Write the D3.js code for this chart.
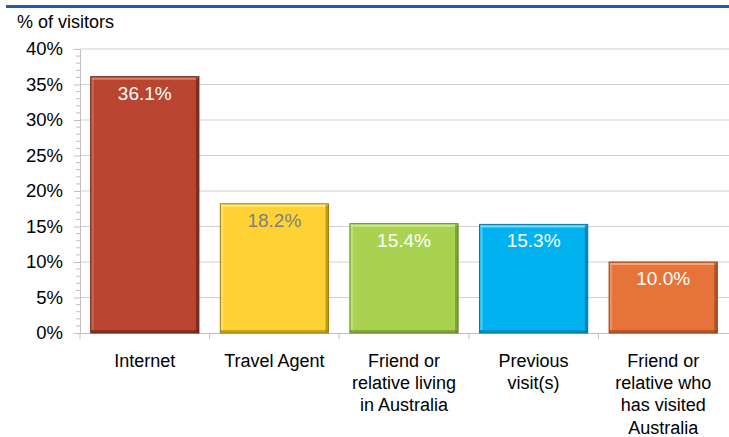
<!DOCTYPE html>
<html><head><meta charset="utf-8">
<script src="https://cdn.jsdelivr.net/npm/d3@7"></script>
<style>body{margin:0;background:#fff}svg{display:block;font-family:"Liberation Sans",Arial,sans-serif}</style>
</head><body><svg id="c" width="729" height="437"></svg>
<script>
const categories = [["Internet"],["Travel Agent"],["Friend or","relative living","in Australia"],["Previous","visit(s)"],["Friend or","relative who","has visited","Australia"]];
const values = [36.1, 18.2, 15.4, 15.3, 10.0];
const colors = ["#B94430","#FFD234","#A9D251","#00B3F0","#E6733A"];
const darks = ["#6E2418","#A08010","#6A8A2A","#0078A8","#9A4418"];
const lights = ["#D9826F","#FFE88A","#CDE89A","#80DBFA","#F2A67E"];
const labelColors = ["#fff","#7F7F7F","#fff","#fff","#fff"];
const yTicks = [0,5,10,15,20,25,30,35,40];

const svg = d3.select("#c");
const x = d3.scaleBand().domain(d3.range(values.length)).range([80, 728]).paddingInner(0.165).paddingOuter(0.0825);
const y = d3.scaleLinear().domain([0,40]).range([333,49]);

svg.append("rect").attr("x",6).attr("y",5).attr("width",723).attr("height",3).attr("fill","#1F5F9F");
svg.append("text").attr("x",17).attr("y",28).attr("font-size",18).attr("fill","#000").text("% of visitors");

// gridlines
svg.append("g").selectAll("line").data(yTicks.slice(1)).join("line")
 .attr("x1",80).attr("x2",729).attr("y1",d=>y(d)).attr("y2",d=>y(d)).attr("stroke","#D0D0D0").attr("stroke-width",1);

// y axis
const yAxis = d3.axisLeft(y).tickValues(yTicks).tickFormat(d=>d+"%").tickSize(6).tickPadding(11);
const gy = svg.append("g").attr("transform","translate(80,0)").call(yAxis);
gy.select(".domain").attr("stroke","#BFBFBF");
gy.selectAll(".tick line").attr("stroke","#BFBFBF");
gy.selectAll("text").attr("font-size",18.5).attr("fill","#000").attr("font-family","Liberation Sans,Arial,sans-serif");
// minor ticks
const minor = d3.range(0,40,1).filter(d=>d%5!==0);
svg.append("g").selectAll("line").data(minor).join("line")
 .attr("x1",76).attr("x2",80).attr("y1",d=>y(d)).attr("y2",d=>y(d)).attr("stroke","#BFBFBF");

// x axis line and ticks
svg.append("line").attr("x1",80).attr("x2",729).attr("y1",333.5).attr("y2",333.5).attr("stroke","#BFBFBF");
const step = x.step();
svg.append("g").selectAll("line").data(d3.range(values.length)).join("line")
 .attr("x1",d=>80+d*step).attr("x2",d=>80+d*step).attr("y1",333).attr("y2",339).attr("stroke","#BFBFBF");

// bars
const bars = svg.append("g").selectAll("g").data(values).join("g");
bars.append("rect").attr("x",(d,i)=>x(i)).attr("y",d=>y(d)).attr("width",x.bandwidth()).attr("height",d=>y(0)-y(d))
 .attr("fill",(d,i)=>colors[i]).attr("stroke",(d,i)=>darks[i]).attr("stroke-width",1);
// bevel highlights
bars.append("rect").attr("x",(d,i)=>x(i)+1).attr("y",d=>y(d)+1).attr("width",x.bandwidth()-2).attr("height",2).attr("fill",(d,i)=>lights[i]);
bars.append("rect").attr("x",(d,i)=>x(i)+x.bandwidth()-3).attr("y",d=>y(d)+1).attr("width",3).attr("height",d=>y(0)-y(d)-1).attr("fill",(d,i)=>darks[i]).attr("opacity",0.7);
bars.append("rect").attr("x",(d,i)=>x(i)).attr("y",d=>y(0)-3).attr("width",x.bandwidth()).attr("height",3).attr("fill",(d,i)=>darks[i]).attr("opacity",0.6);
bars.append("rect").attr("x",(d,i)=>x(i)+1).attr("y",d=>y(d)+1).attr("width",2).attr("height",d=>y(0)-y(d)-4).attr("fill",(d,i)=>lights[i]).attr("opacity",0.6);

bars.append("text").attr("x",(d,i)=>x(i)+x.bandwidth()/2).attr("y",d=>y(d)+23).attr("text-anchor","middle")
 .attr("font-size",19).attr("fill",(d,i)=>labelColors[i]).text(d=>d.toFixed(1)+"%");

// category labels
const cl = svg.append("g").selectAll("text").data(categories).join("text")
 .attr("x",(d,i)=>x(i)+x.bandwidth()/2).attr("text-anchor","middle").attr("font-size",18).attr("fill","#000");
cl.selectAll("tspan").data(d=>d).join("tspan").attr("x",function(){return this.parentNode.getAttribute("x");})
 .attr("y",(d,j)=>367+j*22.2).text(d=>d);
</script></body></html>
